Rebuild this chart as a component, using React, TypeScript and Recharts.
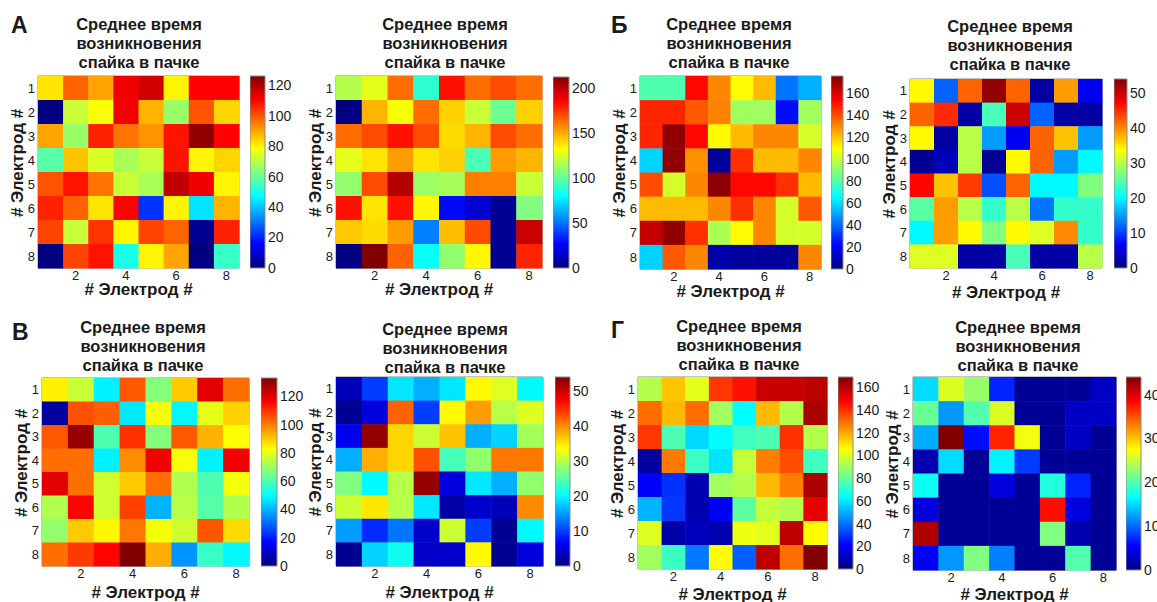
import { ScatterChart, Scatter, XAxis, YAxis, ReferenceArea, BarChart, Bar, Label } from "recharts";

const electrodes = [1, 2, 3, 4, 5, 6, 7, 8];
const xTicks = [2, 4, 6, 8];
const titleLines = ["Среднее время", "возникновения", "спайка в пачке"];
const axisName = "# Электрод #";

// mean spike time in burst, rows = electrode (y), cols = electrode (x)
const spikeA1 = [
  [82, 98, 90, 112, 116, 80, 110, 110],
  [0, 72, 78, 112, 88, 66, 100, 84],
  [90, 66, 106, 96, 92, 108, 124, 110],
  [58, 86, 74, 68, 72, 108, 80, 84],
  [100, 108, 96, 72, 68, 118, 112, 80],
  [106, 98, 82, 110, 22, 80, 44, 88],
  [102, 72, 104, 80, 102, 98, 2, 106],
  [0, 102, 108, 50, 80, 90, 0, 54],
];
const spikeA2 = [
  [117, 127, 163, 89, 182, 163, 170, 163],
  [0, 148, 131, 163, 142, 121, 102, 142],
  [163, 170, 182, 170, 140, 148, 170, 163],
  [127, 138, 153, 138, 142, 95, 153, 148],
  [110, 170, 201, 112, 114, 159, 159, 121],
  [182, 138, 182, 134, 28, 17, 4, 106],
  [144, 140, 153, 53, 146, 170, 4, 197],
  [0, 212, 165, 81, 110, 134, 4, 178],
];
const spikeB1 = [
  [79, 79, 152, 130, 110, 121, 42, 52],
  [147, 147, 138, 131, 93, 93, 24, 93],
  [147, 172, 152, 110, 121, 130, 130, 102],
  [58, 172, 128, 5, 145, 121, 121, 130],
  [140, 102, 130, 173, 152, 152, 145, 121],
  [121, 121, 121, 130, 145, 130, 102, 138],
  [163, 172, 145, 95, 110, 130, 102, 102],
  [58, 138, 130, 7, 5, 5, 5, 130],
];
const spikeB2 = [
  [34, 12, 42, 53, 42, 2, 39, 6],
  [42, 45, 2, 24, 50, 12, 2, 2],
  [34, 2, 30, 15, 6, 42, 37, 15],
  [1, 3, 30, 1, 34, 42, 15, 20],
  [47, 37, 44, 11, 42, 20, 20, 27],
  [25, 39, 30, 23, 30, 13, 23, 23],
  [20, 39, 34, 27, 34, 32, 40, 23],
  [32, 32, 2, 2, 24, 2, 2, 30],
];
const spikeV1 = [
  [85, 76, 48, 105, 67, 90, 120, 102],
  [4, 106, 104, 47, 82, 49, 80, 89],
  [105, 130, 60, 110, 67, 105, 93, 83],
  [102, 102, 48, 98, 118, 82, 48, 118],
  [120, 102, 77, 90, 102, 73, 60, 82],
  [73, 116, 77, 108, 40, 74, 61, 73],
  [69, 90, 84, 101, 82, 77, 105, 88],
  [102, 109, 116, 133, 94, 36, 57, 49],
];
const spikeV2 = [
  [3, 10, 19, 16, 19, 34, 32, 20],
  [1, 5, 42, 10, 34, 39, 30, 32],
  [6, 53, 36, 31, 37, 16, 18, 29],
  [16, 38, 36, 43, 24, 28, 41, 41],
  [27, 20, 30, 53, 5, 19, 16, 28],
  [31, 35, 30, 19, 2, 4, 3, 40],
  [15, 9, 13, 4, 31, 10, 1, 20],
  [1, 18, 21, 4, 4, 34, 1, 5],
];
const spikeG1 = [
  [93, 115, 101, 139, 145, 157, 157, 159],
  [130, 117, 130, 90, 63, 117, 93, 162],
  [139, 76, 57, 63, 74, 76, 140, 93],
  [5, 128, 73, 59, 96, 127, 135, 74],
  [20, 29, 8, 90, 93, 117, 127, 162],
  [51, 30, 8, 20, 79, 96, 93, 152],
  [100, 7, 10, 8, 103, 101, 159, 106],
  [90, 73, 41, 106, 37, 159, 130, 169],
];
const spikeG2 = [
  [15, 26, 23, 7, 1, 1, 1, 3],
  [21, 12, 20, 26, 1, 1, 3, 3],
  [13, 44, 6, 37, 27, 1, 3, 1],
  [2, 15, 1, 16, 8, 1, 1, 1],
  [17, 1, 1, 4, 1, 18, 7, 1],
  [4, 1, 1, 1, 1, 38, 4, 1],
  [42, 1, 1, 1, 1, 22, 2, 1],
  [5, 12, 22, 11, 1, 1, 20, 1],
];

const ticks120 = [0, 20, 40, 60, 80, 100, 120];
const ticks200 = [0, 50, 100, 150, 200];
const ticks160 = [0, 20, 40, 60, 80, 100, 120, 140, 160];
const ticks50 = [0, 10, 20, 30, 40, 50];
const ticks40 = [0, 10, 20, 30, 40];

const font = "'Liberation Sans', Arial, sans-serif";
const ink = "#1a1a1a";
const frame = "#8a8a8a";
const labelStyle = { fontSize: 17, fontWeight: "bold" as const, fill: ink, fontFamily: font };

const clamp = (v: number) => Math.max(0, Math.min(1, v));
const jet = (t: number) => {
  t = clamp(t);
  const r = clamp(Math.min(4 * t - 1.5, -4 * t + 4.5));
  const g = clamp(Math.min(4 * t - 0.5, -4 * t + 3.5));
  const b = clamp(Math.min(4 * t + 0.5, -4 * t + 2.5));
  return `rgb(${Math.round(r * 255)},${Math.round(g * 255)},${Math.round(b * 255)})`;
};

type Box = { x: number; y: number; w: number; h: number };

const Heatmap = ({ matrix, vmax, plot, xgap }: { matrix: number[][]; vmax: number; plot: Box; xgap: number }) => {
  const yw = 34;
  const xh = xgap + 15;
  const cw = plot.w / 8;
  const ch = plot.h / 8;
  const points = matrix.flatMap((row, r) => row.map((v, c) => ({ x: c + 1, y: r + 1, v })));
  const tickStyle = { fontSize: 13, fill: ink, fontFamily: font };
  return (
    <div style={{ position: "absolute", left: plot.x - yw, top: plot.y - 1 }}>
      <ScatterChart
        width={plot.w + yw + 2}
        height={plot.h + xh + 1}
        margin={{ top: 1, right: 2, bottom: 0, left: 0 }}
      >
        <XAxis
          type="number"
          dataKey="x"
          domain={[0.5, 8.5]}
          ticks={xTicks}
          height={xh}
          tickLine={false}
          axisLine={false}
          tickSize={2}
          tickMargin={1}
          tick={tickStyle}
        >
          <Label value={axisName} position="insideBottom" offset={10} style={labelStyle} />
        </XAxis>
        <YAxis
          type="number"
          dataKey="y"
          domain={[0.5, 8.5]}
          reversed
          ticks={electrodes}
          width={yw}
          tickLine={false}
          axisLine={false}
          tickSize={2}
          tickMargin={1}
          tick={tickStyle}
        >
          <Label
            content={(props: any) => {
              const vb = props.viewBox;
              const lx = vb.x + 13;
              const ly = vb.y + vb.height / 2 - 9;
              return (
                <text
                  x={lx}
                  y={ly}
                  transform={`rotate(-90 ${lx} ${ly})`}
                  textAnchor="middle"
                  dominantBaseline="central"
                  style={labelStyle}
                >
                  {axisName}
                </text>
              );
            }}
          />
        </YAxis>
        <Scatter
          data={points}
          isAnimationActive={false}
          shape={(p: any) => (
            <rect
              x={p.cx - cw / 2}
              y={p.cy - ch / 2}
              width={cw + 0.5}
              height={ch + 0.5}
              fill={jet(p.payload.v / vmax)}
            />
          )}
        />
        <ReferenceArea x1={0.5} x2={8.5} y1={0.5} y2={8.5} fill="none" fillOpacity={0} stroke={frame} strokeWidth={1} />
      </ScatterChart>
    </div>
  );
};

const ColorBar = ({ vmax, ticks, box, gid }: { vmax: number; ticks: number[]; box: Box; gid: string }) => {
  const stops = Array.from({ length: 17 }, (_, i) => i / 16);
  const pad = 9;
  return (
    <div style={{ position: "absolute", left: box.x, top: box.y - pad }}>
      <BarChart
        width={box.w + 36}
        height={box.h + 2 * pad}
        data={[{ name: "cb", v: vmax }]}
        margin={{ top: pad, right: 0, bottom: pad, left: 0 }}
        barCategoryGap={0}
      >
        <defs>
          <linearGradient id={gid} x1="0" y1="0" x2="0" y2="1">
            {stops.map((s) => (
              <stop key={s} offset={`${s * 100}%`} stopColor={jet(1 - s)} />
            ))}
          </linearGradient>
        </defs>
        <XAxis dataKey="name" hide />
        <YAxis
          orientation="right"
          domain={[0, vmax]}
          ticks={ticks}
          width={36}
          tickLine={false}
          axisLine={false}
          tickSize={2}
          tickMargin={1}
          tick={{ fontSize: 14, fill: ink, fontFamily: font }}
          interval={0}
        />
        <Bar dataKey="v" fill={`url(#${gid})`} stroke={frame} strokeWidth={1} isAnimationActive={false} />
      </BarChart>
    </div>
  );
};

const Title = ({ cx, top }: { cx: number; top: number }) => (
  <div
    style={{
      position: "absolute",
      left: cx - 100,
      top,
      width: 200,
      textAlign: "center",
      fontFamily: font,
      fontWeight: "bold",
      fontSize: 16.5,
      lineHeight: "19px",
      color: ink,
    }}
  >
    {titleLines.map((l) => (
      <div key={l}>{l}</div>
    ))}
  </div>
);

const Letter = ({ x, y, text }: { x: number; y: number; text: string }) => (
  <div
    style={{
      position: "absolute",
      left: x,
      top: y,
      fontFamily: font,
      fontWeight: "bold",
      fontSize: 23,
      lineHeight: "26px",
      color: ink,
    }}
  >
    {text}
  </div>
);

const panels = [
  { id: "a1", m: spikeA1, vmax: 126, ticks: ticks120, plot: { x: 38, y: 76, w: 201, h: 192 }, xgap: 22, cb: { x: 250, y: 76, w: 15, h: 192 }, tx: 139, ty: 15 },
  { id: "a2", m: spikeA2, vmax: 212, ticks: ticks200, plot: { x: 336, y: 76, w: 206, h: 192 }, xgap: 22, cb: { x: 553, y: 77, w: 16, h: 191 }, tx: 445, ty: 15 },
  { id: "b1", m: spikeB1, vmax: 175, ticks: ticks160, plot: { x: 640, y: 76, w: 181, h: 193 }, xgap: 23, cb: { x: 831, y: 76, w: 12, h: 193 }, tx: 729, ty: 15 },
  { id: "b2", m: spikeB2, vmax: 54, ticks: ticks50, plot: { x: 910, y: 79, w: 192, h: 189 }, xgap: 25, cb: { x: 1114, y: 79, w: 13, h: 189 }, tx: 1010, ty: 17 },
  { id: "v1", m: spikeV1, vmax: 133, ticks: ticks120, plot: { x: 42, y: 378, w: 207, h: 188 }, xgap: 27, cb: { x: 261, y: 378, w: 16, h: 188 }, tx: 143, ty: 318 },
  { id: "v2", m: spikeV2, vmax: 54, ticks: ticks50, plot: { x: 336, y: 377, w: 207, h: 189 }, xgap: 27, cb: { x: 555, y: 377, w: 15, h: 189 }, tx: 445, ty: 320 },
  { id: "g1", m: spikeG1, vmax: 169, ticks: ticks160, plot: { x: 638, y: 377, w: 189, h: 192 }, xgap: 26, cb: { x: 838, y: 377, w: 15, h: 192 }, tx: 739, ty: 317 },
  { id: "g2", m: spikeG2, vmax: 44, ticks: ticks40, plot: { x: 913, y: 377, w: 203, h: 193 }, xgap: 25, cb: { x: 1126, y: 377, w: 15, h: 193 }, tx: 1018, ty: 318 },
];

export default function App() {
  return (
    <div style={{ position: "absolute", left: 0, top: 0, width: 1157, height: 602, background: "#fff", overflow: "hidden" }}>
      <Letter x={11} y={12} text="А" />
      <Letter x={611} y={12} text="Б" />
      <Letter x={12} y={319} text="В" />
      <Letter x={611} y={317} text="Г" />
      {panels.map((p) => (
        <div key={p.id}>
          <Title cx={p.tx} top={p.ty} />
          <Heatmap matrix={p.m} vmax={p.vmax} plot={p.plot} xgap={p.xgap} />
          <ColorBar vmax={p.vmax} ticks={p.ticks} box={p.cb} gid={`grad-${p.id}`} />
        </div>
      ))}
    </div>
  );
}
